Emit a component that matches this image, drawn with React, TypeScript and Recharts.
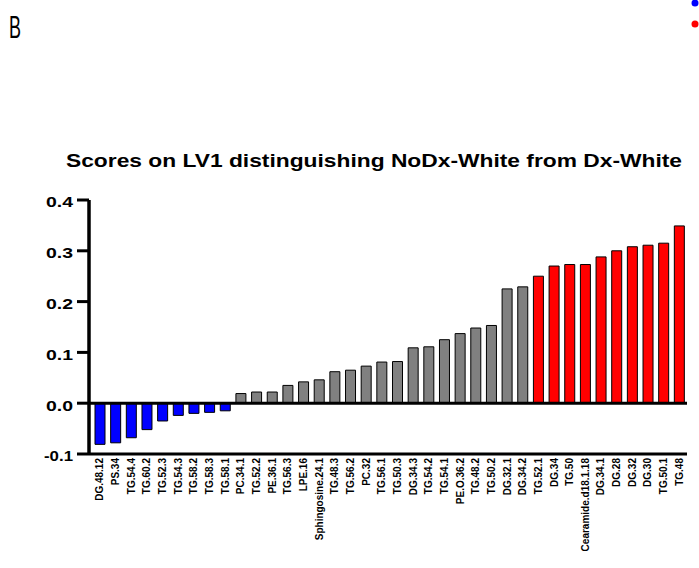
import React from 'react';
import { BarChart, Bar, XAxis, YAxis, Cell, ReferenceLine } from 'recharts';

const lipids = [
  'DG.48.12', 'PS.34', 'TG.54.4', 'TG.60.2', 'TG.52.3', 'TG.54.3', 'TG.58.2', 'TG.58.3', 'TG.58.1',
  'PC.34.1', 'TG.52.2', 'PE.36.1', 'TG.56.3', 'LPE.16', 'Sphingosine.24.1', 'TG.48.3', 'TG.56.2', 'PC.32',
  'TG.56.1', 'TG.50.3', 'DG.34.3', 'TG.54.2', 'TG.54.1', 'PE.O.36.2', 'TG.48.2', 'TG.50.2', 'DG.32.1', 'DG.34.2',
  'TG.52.1', 'DG.34', 'TG.50', 'Cearamide.d18.1.18', 'DG.34.1', 'DG.28', 'DG.32', 'DG.30', 'TG.50.1', 'TG.48',
];

const scores = [
  -0.081, -0.078, -0.068, -0.052, -0.035, -0.024, -0.02, -0.018, -0.015,
  0.019, 0.022, 0.022, 0.035, 0.042, 0.046, 0.062, 0.065, 0.073,
  0.081, 0.082, 0.109, 0.111, 0.125, 0.137, 0.148, 0.153, 0.225, 0.229,
  0.25, 0.27, 0.273, 0.273, 0.288, 0.3, 0.308, 0.311, 0.315, 0.349,
];

const groups = [
  'down', 'down', 'down', 'down', 'down', 'down', 'down', 'down', 'down',
  'mid', 'mid', 'mid', 'mid', 'mid', 'mid', 'mid', 'mid', 'mid',
  'mid', 'mid', 'mid', 'mid', 'mid', 'mid', 'mid', 'mid', 'mid', 'mid',
  'up', 'up', 'up', 'up', 'up', 'up', 'up', 'up', 'up', 'up',
];

const yTicks = [-0.1, 0, 0.1, 0.2, 0.3, 0.4];

const title = 'Scores on LV1 distinguishing NoDx-White from Dx-White';
const panelLabel = 'B';

const groupColors: Record<string, string> = {
  down: '#0000FF',
  mid: '#808080',
  up: '#FF0000',
};

const data = lipids.map((name, i) => ({ name, score: scores[i], group: groups[i] }));

const FONT = '"Liberation Sans", Arial, sans-serif';

const XTick = (props: any) => {
  const { x, y, payload } = props;
  return (
    <text
      x={x}
      y={y}
      transform={`rotate(-90 ${x} ${y})`}
      textAnchor="end"
      dy="0.36em"
      fontSize={10}
      fontWeight="bold"
      fontFamily={FONT}
      fill="#000"
    >
      {payload.value}
    </text>
  );
};

const YTick = (props: any) => {
  const { x, y, payload } = props;
  const label = payload.value.toFixed(1);
  return (
    <text
      x={x - 2}
      y={y + 2}
      dy="0.36em"
      textAnchor="end"
      fontSize={15}
      fontWeight="bold"
      fontFamily={FONT}
      fill="#000"
      textLength={label.startsWith('-') ? 29 : 27}
      lengthAdjust="spacingAndGlyphs"
    >
      {label}
    </text>
  );
};

export default function App() {
  return (
    <div style={{ position: 'absolute', left: 0, top: 0, width: 699, height: 568, background: '#fff' }}>
      <svg
        width={699}
        height={568}
        style={{ position: 'absolute', left: 0, top: 0, pointerEvents: 'none' }}
      >
        <text x={9} y={37.5} fontSize={31} fontFamily={FONT} fill="#000" textLength={12} lengthAdjust="spacingAndGlyphs">
          {panelLabel}
        </text>
        <circle cx={695} cy={3} r={3.5} fill="#0000FF" />
        <circle cx={695} cy={24} r={3.5} fill="#FF0000" />
        <text
          x={66}
          y={167}
          fontSize={19}
          fontWeight="bold"
          fontFamily={FONT}
          fill="#000"
          textLength={616}
          lengthAdjust="spacingAndGlyphs"
        >
          {title}
        </text>
      </svg>
      <div style={{ position: 'absolute', left: 0, top: 0 }}>
        <BarChart
          width={699}
          height={568}
          data={data}
          margin={{ top: 200, right: 12, bottom: 0, left: 0 }}
          barCategoryGap={0}
        >
          <XAxis
            dataKey="name"
            interval={0}
            height={114}
            tickLine={false}
            tickSize={0}
            tickMargin={4}
            axisLine={{ stroke: '#000', strokeWidth: 3 }}
            tick={<XTick />}
            padding={{ left: 3, right: 0 }}
          />
          <YAxis
            width={89}
            domain={[-0.1, 0.4]}
            ticks={yTicks}
            type="number"
            allowDataOverflow
            tickSize={12}
            tickLine={{ stroke: '#000', strokeWidth: 3 }}
            axisLine={{ stroke: '#000', strokeWidth: 3.5 }}
            tick={<YTick />}
          />
          <ReferenceLine y={0} stroke="#000" strokeWidth={3} ifOverflow="extendDomain" />
          <Bar dataKey="score" barSize={10} stroke="#000" strokeWidth={1} isAnimationActive={false}>
            {data.map((d, i) => (
              <Cell key={i} fill={groupColors[d.group]} />
            ))}
          </Bar>
        </BarChart>
      </div>
    </div>
  );
}
